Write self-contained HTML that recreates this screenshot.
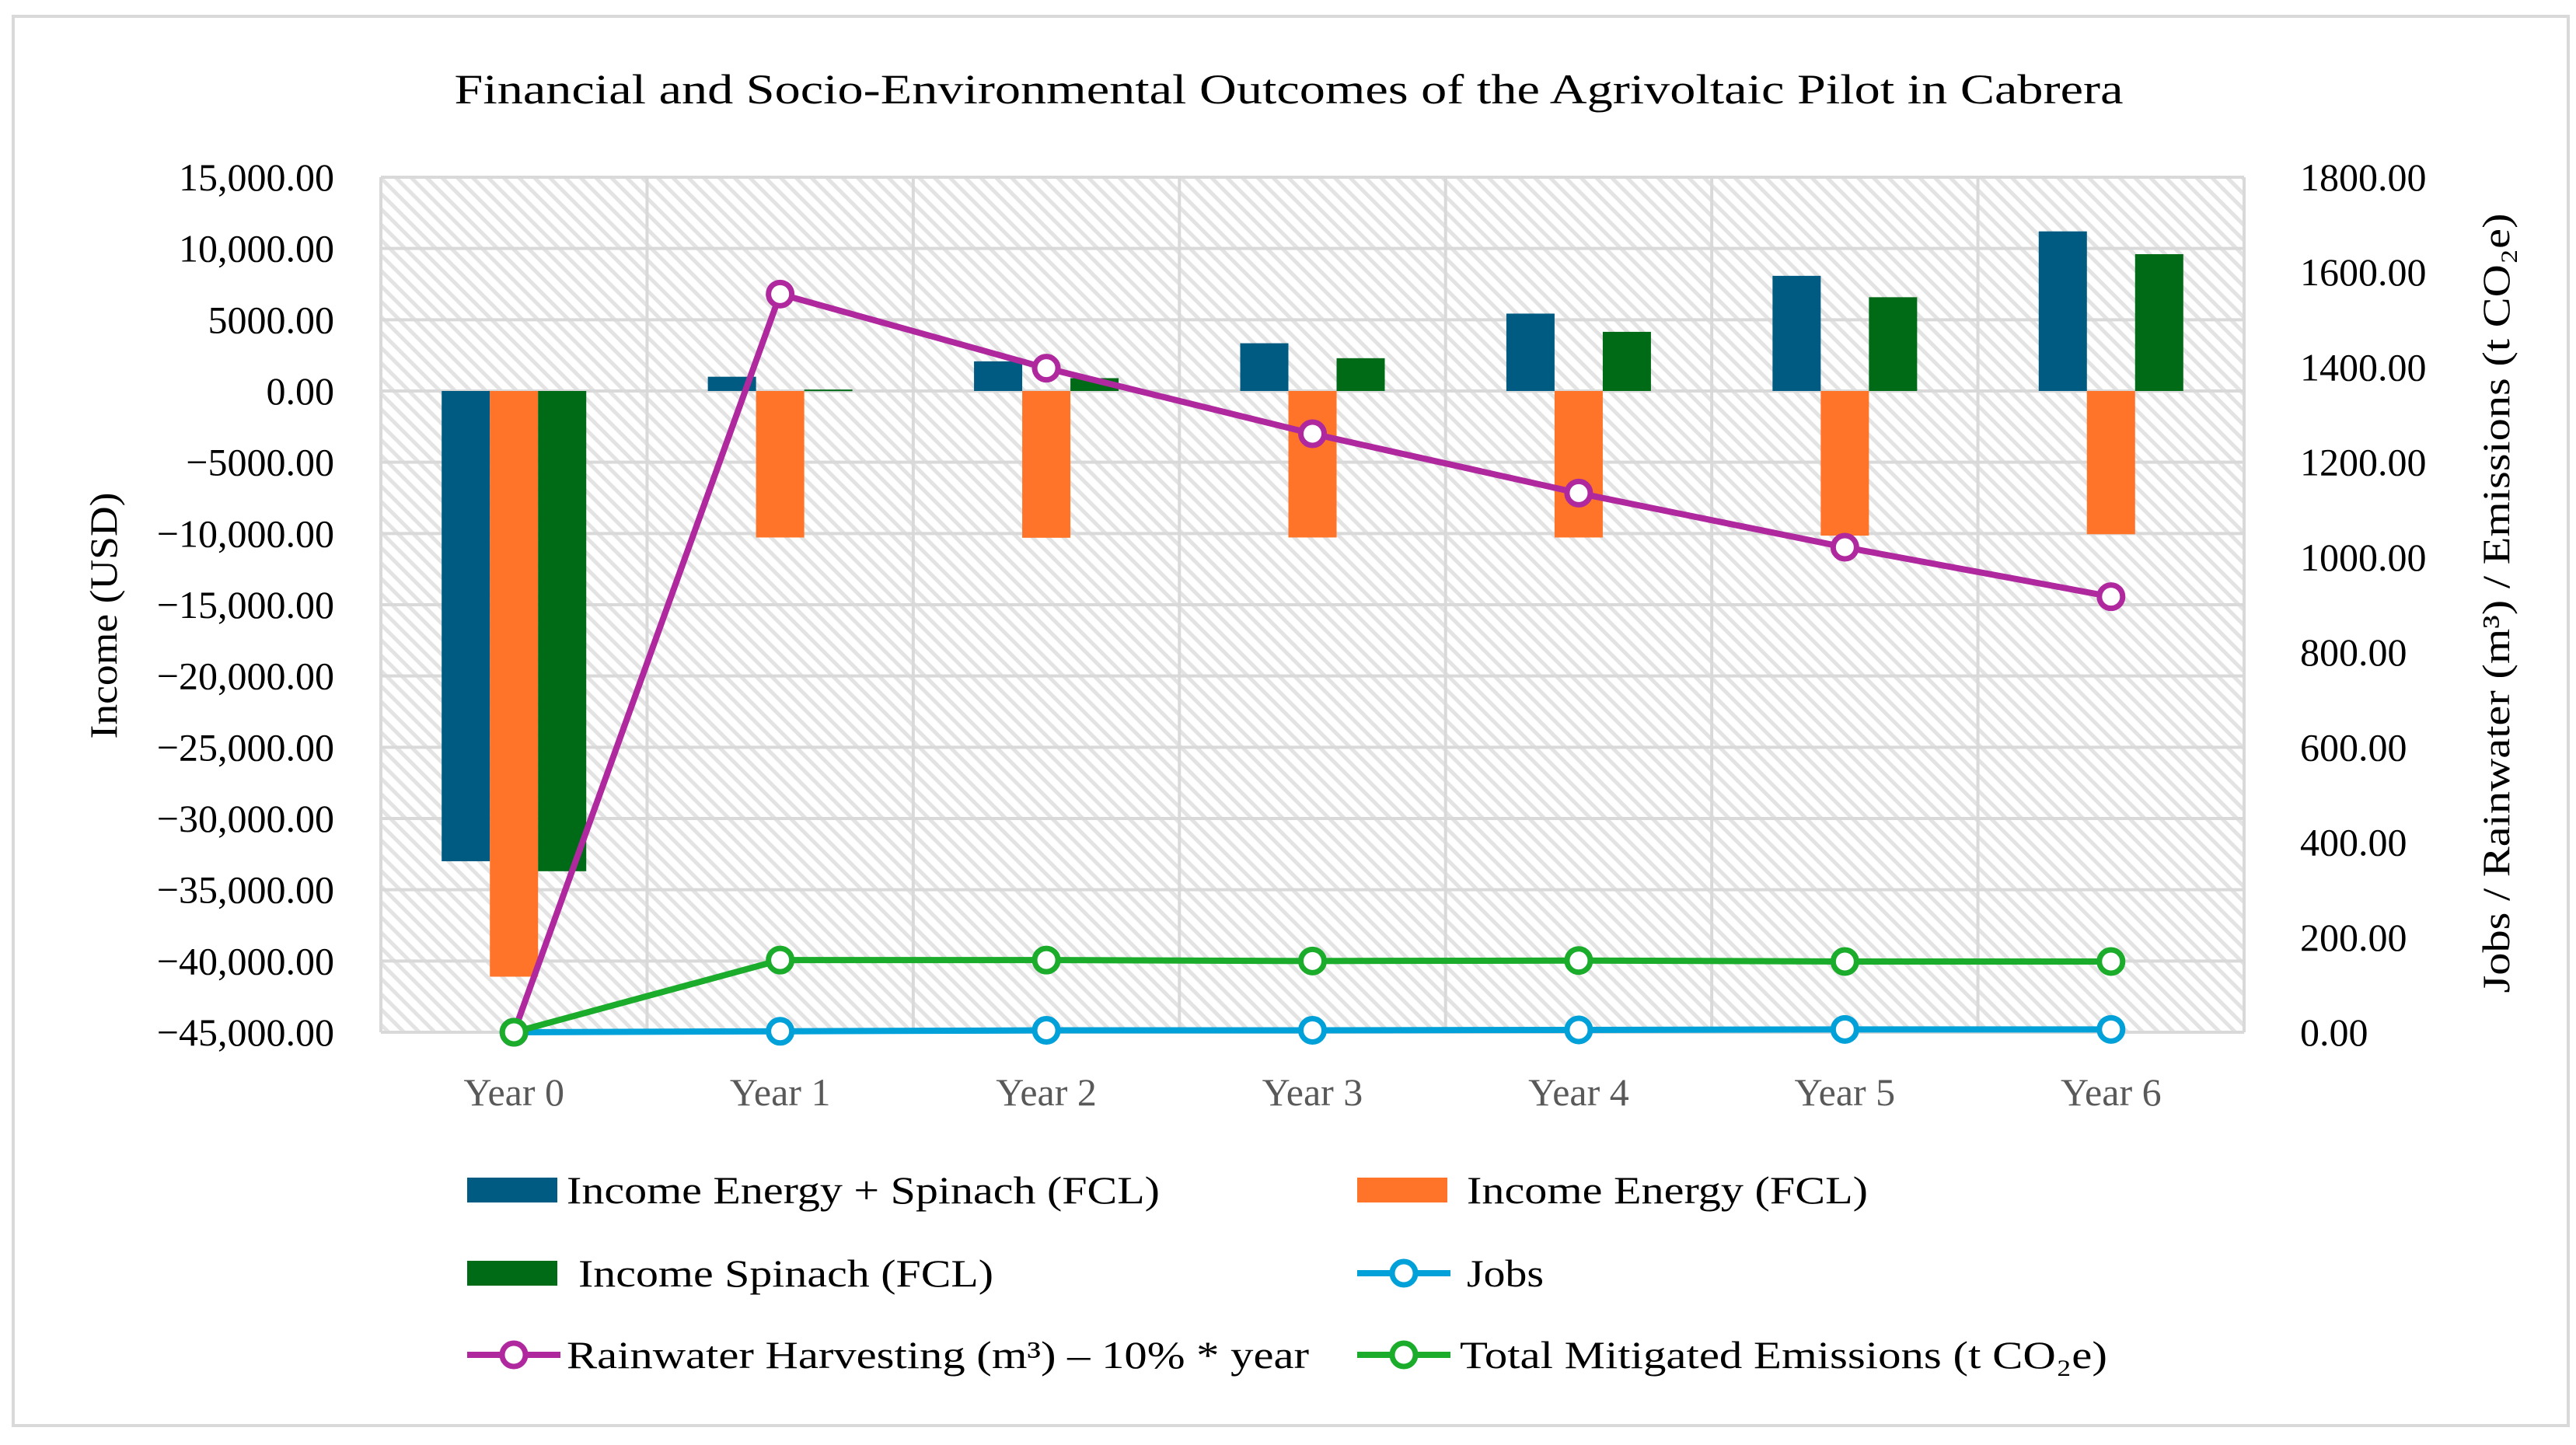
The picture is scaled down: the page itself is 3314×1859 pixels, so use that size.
<!DOCTYPE html>
<html><head><meta charset="utf-8"><style>
html,body{margin:0;padding:0;background:#fff;}
svg{display:block;font-family:"Liberation Serif",serif;}
</style></head><body>
<svg id="chart" width="3314" height="1859" viewBox="0 0 3314 1859" xmlns="http://www.w3.org/2000/svg">
<defs>
<pattern id="hatch" width="14" height="14" patternUnits="userSpaceOnUse" patternTransform="rotate(-45)">
<rect width="14" height="14" fill="#ffffff"/>
<rect x="0" y="0" width="5" height="14" fill="#e3e3e3"/>
</pattern>
</defs>
<rect x="17" y="21" width="3287" height="1813" fill="#fff" stroke="#d9d9d9" stroke-width="4"/>
<text x="1658" y="133" font-size="54" text-anchor="middle" textLength="2147" lengthAdjust="spacingAndGlyphs" fill="#000">Financial and Socio-Environmental Outcomes of the Agrivoltaic Pilot in Cabrera</text>
<g id="plot"></g>
<text transform="translate(150,792) rotate(-90)" font-size="50" text-anchor="middle" textLength="317" lengthAdjust="spacingAndGlyphs">Income (USD)</text>
<text transform="translate(3228,776) rotate(-90)" font-size="50" text-anchor="middle" textLength="1003" lengthAdjust="spacingAndGlyphs">Jobs / Rainwater (m³) / Emissions (t CO₂e)</text>
<g id="legend"></g>
</svg>
<script>
const categories = ["Year 0","Year 1","Year 2","Year 3","Year 4","Year 5","Year 6"];
const incomeEnergySpinach = [-33000,1000,2080,3350,5430,8080,11200];
const incomeEnergy = [-41100,-10280,-10300,-10280,-10280,-10150,-10050];
const incomeSpinach = [-33700,100,900,2300,4150,6580,9600];
const jobs = [0,2,4,4,5,6,6];
const rainwater = [0,1554,1398,1260,1135,1021,917];
const emissions = [0,152,152,150,151,149,149];
const leftTicks = [15000,10000,5000,0,-5000,-10000,-15000,-20000,-25000,-30000,-35000,-40000,-45000];
const leftTickLabels = ["15,000.00","10,000.00","5000.00","0.00","\u22125000.00","\u221210,000.00","\u221215,000.00","\u221220,000.00","\u221225,000.00","\u221230,000.00","\u221235,000.00","\u221240,000.00","\u221245,000.00"];
const rightTicks = [0,200,400,600,800,1000,1200,1400,1600,1800];
const rightTickLabels = ["0.00","200.00","400.00","600.00","800.00","1000.00","1200.00","1400.00","1600.00","1800.00"];

const NS="http://www.w3.org/2000/svg";
const L=490,R=2887,T=228,B=1328;
const yL=v=>T+(15000-v)/60000*(B-T);
const yR=v=>B-v/1800*(B-T);
const cw=(R-L)/categories.length;
const xC=i=>L+cw*(i+0.5);
const bw=62;
function mk(tag,attrs,parent){const e=document.createElementNS(NS,tag);for(const k in attrs)e.setAttribute(k,attrs[k]);parent.appendChild(e);return e;}
const plot=document.getElementById('plot');
const bg=mk('rect',{x:L,y:T,width:R-L,height:B-T,fill:'url(#hatch)'},plot);


leftTicks.forEach((v,i)=>{
  const g=mk('line',{x1:L,x2:R,y1:yL(v),y2:yL(v),stroke:'#d9d9d9','stroke-width':4},plot);
  
  
  const t=mk('text',{x:430,y:yL(v)+17,'font-size':50,'text-anchor':'end',fill:'#000'},plot);
  t.textContent=leftTickLabels[i];
  
  
});
for(let i=0;i<=categories.length;i++){
  const g=mk('line',{x1:L+cw*i,x2:L+cw*i,y1:T,y2:B,stroke:'#d9d9d9','stroke-width':4},plot);
  
  
}
rightTicks.forEach((v,i)=>{
  const t=mk('text',{x:2959,y:yR(v)+17,'font-size':50,'text-anchor':'start',fill:'#000'},plot);
  t.textContent=rightTickLabels[i];
  
  
});
categories.forEach((c,i)=>{
  const t=mk('text',{x:xC(i),y:1422,'font-size':50,'text-anchor':'middle',fill:'#595959'},plot);
  t.textContent=c;
  
  
});
const barSeries=[[incomeEnergySpinach,'#005b82','bar-energy-spinach'],[incomeEnergy,'#ff7428','bar-energy'],[incomeSpinach,'#006b16','bar-spinach']];
barSeries.forEach((s,si)=>{
  s[0].forEach((v,i)=>{
    const x=xC(i)+(si-1.5)*bw;
    const y0=yL(0),y1=yL(v);
    const r=mk('rect',{x:x,y:Math.min(y0,y1),width:bw,height:Math.max(2,Math.abs(y1-y0)),fill:s[1]},plot);
    
    
  });
});
const lineSeries=[[jobs,'#00a0d8','line-jobs'],[rainwater,'#b0289e','line-rainwater'],[emissions,'#1aac2a','line-emissions']];
lineSeries.forEach(s=>{
  const pts=s[0].map((v,i)=>xC(i)+','+yR(v)).join(' ');
  const p=mk('polyline',{points:pts,fill:'none',stroke:s[1],'stroke-width':8,'stroke-linejoin':'round'},plot);
  
  
});
lineSeries.forEach(s=>{
  s[0].forEach((v,i)=>{
    const c=mk('circle',{cx:xC(i),cy:yR(v),r:15,fill:'#fff',stroke:s[1],'stroke-width':7},plot);
    
    
  });
});
const leg=document.getElementById('legend');
const items=[
 ['bar','#005b82','Income Energy + Spinach (FCL)',601,1531,729,763],
 ['bar','#ff7428','Income Energy (FCL)',1746,1531,1887,516],
 ['bar','#006b16','Income Spinach (FCL)',601,1638,744,534],
 ['line','#00a0d8','Jobs',1746,1638,1887,99],
 ['line','#b0289e','Rainwater Harvesting (m³) \u2013 10% * year',601,1743,729,955],
 ['line','#1aac2a','Total Mitigated Emissions (t CO₂e)',1746,1743,1878,833]
];
items.forEach(it=>{
  const g=mk('g',{},leg);
  
  
  if(it[0]==='bar'){
    mk('rect',{x:it[3],y:it[4]-16,width:116,height:32,fill:it[1]},g);
  }else{
    mk('line',{x1:it[3],x2:it[3]+120,y1:it[4],y2:it[4],stroke:it[1],'stroke-width':8},g);
    mk('circle',{cx:it[3]+60,cy:it[4],r:15,fill:'#fff',stroke:it[1],'stroke-width':7},g);
  }
  const t=mk('text',{x:it[5],y:it[4]+17,'font-size':50,textLength:it[6],lengthAdjust:'spacingAndGlyphs',fill:'#000'},g);
  t.textContent=it[2];
});
</script>
</body></html>
